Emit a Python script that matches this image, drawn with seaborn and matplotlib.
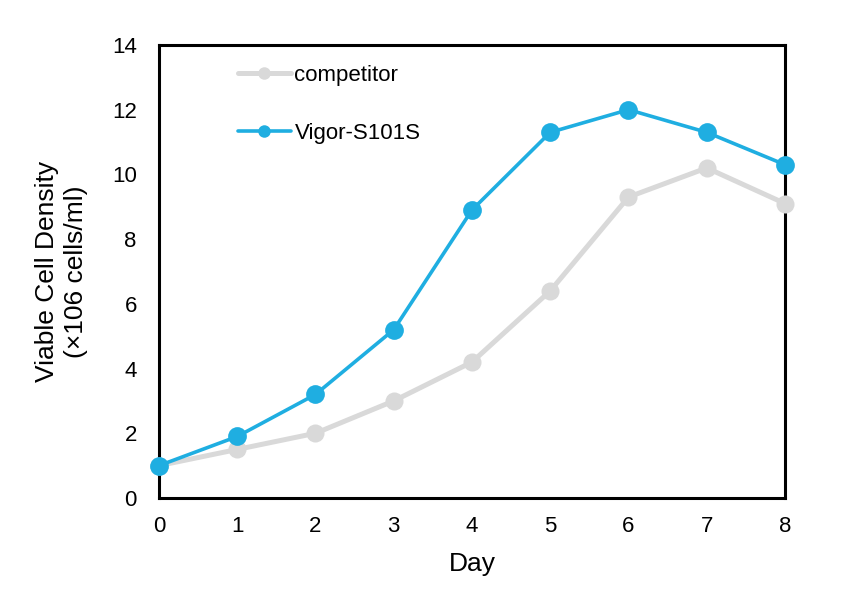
import matplotlib
matplotlib.use("Agg")
import matplotlib.pyplot as plt
import seaborn as sns
import pandas as pd
from matplotlib.lines import Line2D

days = [0, 1, 2, 3, 4, 5, 6, 7, 8]
competitor = [1.0, 1.5, 2.0, 3.0, 4.2, 6.4, 9.3, 10.2, 9.1]
vigor = [1.0, 1.9, 3.2, 5.2, 8.9, 11.3, 12.0, 11.3, 10.3]
series_names = ["competitor", "Vigor-S101S"]

df = pd.DataFrame({
    "Day": days * 2,
    "Density": competitor + vigor,
    "Series": [series_names[0]] * len(days) + [series_names[1]] * len(days),
})

sns.set_style("white")
plt.rcParams["font.family"] = ["Liberation Sans", "DejaVu Sans"]
plt.rcParams["text.color"] = "black"
plt.rcParams["axes.labelcolor"] = "black"

colors = {"competitor": "#D9D9D9", "Vigor-S101S": "#1FAEE1"}
msizes = {"competitor": 13, "Vigor-S101S": 13.5}
lwidths = {"competitor": 3.6, "Vigor-S101S": 2.6}

fig = plt.figure(figsize=(8.47, 5.91), dpi=100)
ax = fig.add_axes([0.1877, 0.1574, 0.7391, 0.7665])

for name in series_names:
    sub = df[df["Series"] == name]
    sns.lineplot(data=sub, x="Day", y="Density", ax=ax, color=colors[name],
                 marker="o", markersize=msizes[name], markeredgewidth=0,
                 linewidth=lwidths[name], legend=False, clip_on=False, zorder=3)

ax.set_xlim(0, 8)
ax.set_ylim(0, 14)
ax.set_xticks(days)
ax.set_yticks(range(0, 15, 2))
ax.tick_params(direction="in", length=6, width=2, labelsize=16, colors="black")
ax.tick_params(axis="y", pad=16)
ax.tick_params(axis="x", pad=13)
for s in ax.spines.values():
    s.set_linewidth(2.2)
    s.set_color("black")
    s.set_visible(True)
ax.set_xlabel("Day", fontsize=19, labelpad=11)
ax.set_ylabel("Viable Cell Density\n(×106 cells/ml)", fontsize=19, linespacing=1.3, labelpad=17)

handles = [Line2D([0], [0], color=colors[n], marker="o", markersize=9, linewidth=lwidths[n],
                  markeredgewidth=0) for n in series_names]
ax.legend(handles, series_names, loc="upper left", bbox_to_anchor=(0.094, 1.0),
          frameon=False, fontsize=16, labelspacing=1.65, handlelength=2.4,
          handletextpad=0.15)

fig.savefig("out.png", dpi=100)
